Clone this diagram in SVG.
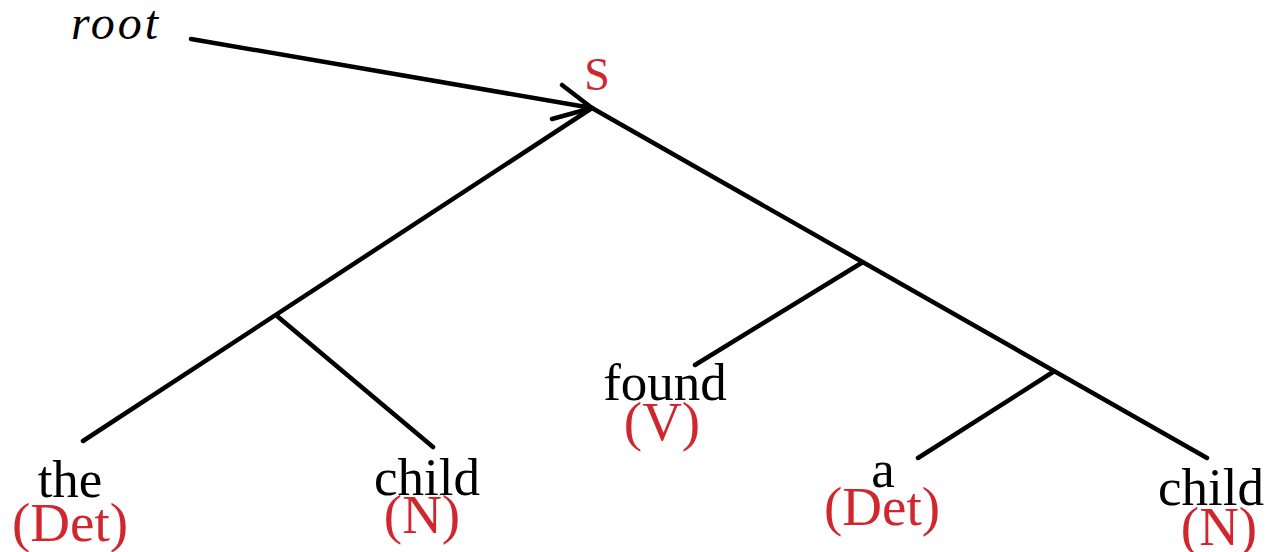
<svg xmlns="http://www.w3.org/2000/svg" width="1278" height="552" viewBox="0 0 1278 552">
<style>
.w{font-family:"Liberation Serif","Times New Roman",serif;font-size:53px;fill:#000;text-anchor:middle}
.t{font-family:"Liberation Serif","Times New Roman",serif;font-size:55px;fill:#d0262d;text-anchor:middle}
.e{stroke:#000;stroke-width:4.5;stroke-linecap:round;fill:none}
</style>
<rect width="1278" height="552" fill="#fff"/>
<g id="root-label"><text x="116" y="39" style="font-family:'Liberation Serif',serif;font-size:48px;font-style:italic;text-anchor:middle;letter-spacing:3px">root</text></g>
<g id="S"><text class="t" x="597" y="90" style="font-size:46px">S</text></g>
<g id="n-the"><text class="w" x="70" y="497">the</text><text class="t" x="70" y="541">(Det)</text></g>
<g id="n-child1"><text class="w" x="427" y="495">child</text><text class="t" x="422" y="533">(N)</text></g>
<g id="n-found"><text class="w" x="665" y="400">found</text><text class="t" x="662" y="440">(V)</text></g>
<g id="n-a"><text class="w" x="883" y="487">a</text><text class="t" x="882" y="525">(Det)</text></g>
<g id="n-child2"><text class="w" x="1211" y="505">child</text><text class="t" x="1219" y="545">(N)</text></g>
<g id="connectors">
<path class="e" d="M191 39 L592 108 M562 85 L592 108 L552 119"/>
<path class="e" d="M592 108 L83 441 M277 316 L433 447"/>
<path class="e" d="M592 108 L1207 458 M863 262 L695 365 M1053 372 L918 458"/>
</g>
</svg>
